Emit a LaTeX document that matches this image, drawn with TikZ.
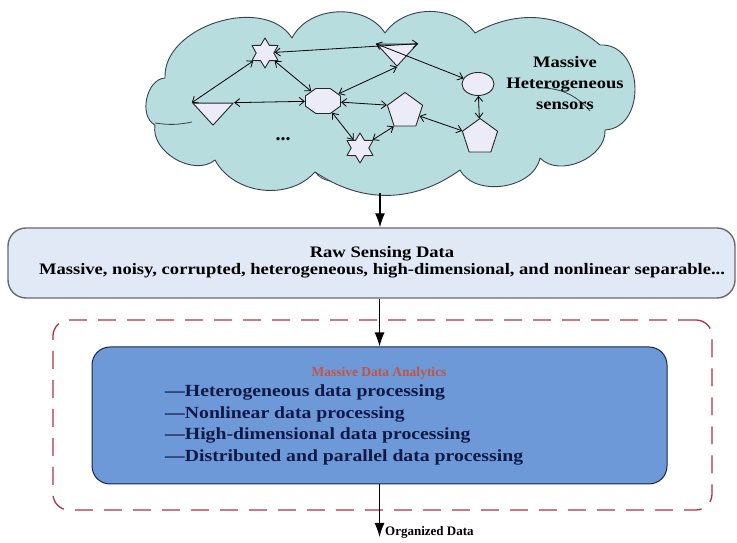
\documentclass[tikz,border=0pt]{standalone}
\usepackage{fontspec}
\setmainfont{Liberation Serif}[Ligatures=TeX]
\newfontfamily\widefont{Liberation Serif}[Ligatures=TeX,FakeStretch=1.16]
\usepackage{tikz}
\usetikzlibrary{arrows.meta,shapes.geometric,positioning}

\definecolor{cloudfill}{RGB}{184,221,223}
\definecolor{cloudline}{RGB}{55,65,75}
\definecolor{sensfill}{RGB}{236,236,248}
\definecolor{rawfill}{RGB}{226,233,246}
\definecolor{rawline}{RGB}{105,105,110}
\definecolor{procfill}{RGB}{110,153,217}
\definecolor{procline}{RGB}{25,35,70}
\definecolor{proctitle}{RGB}{196,84,62}
\definecolor{procitem}{RGB}{15,25,70}
\definecolor{framered}{RGB}{178,48,68}

\begin{document}
\begin{tikzpicture}[x=1pt,y=1pt,line join=round,
  every node/.style={font=\widefont\bfseries\fontsize{16}{19}\selectfont,inner sep=0pt},
  sensor/.style={draw=black!85,fill=sensfill,line width=0.9pt,inner sep=0pt},
  tri/.style={sensor,isosceles triangle,isosceles triangle apex angle=85,shape border rotate=270,minimum height=22},
  hexstar/.style={sensor,star,star points=6,star point ratio=1.7,minimum size=30},
  penta/.style={sensor,regular polygon,regular polygon sides=5,minimum size=37},
  link/.style={<->,>={Straight Barb[length=5pt,width=8pt]},line width=0.8pt},
  flow/.style={-{Latex[length=14pt,width=10pt]},line width=1.2pt},
  rawbox/.style={draw=rawline,fill=rawfill,line width=1.4pt,rounded corners=18pt},
  procbox/.style={draw=procline,fill=procfill,line width=1pt,rounded corners=18pt},
  frame/.style={draw=framered,line width=1.3pt,dash pattern=on 18pt off 11pt,rounded corners=16pt}]
\useasboundingbox (0,0) rectangle (737,543);

\draw[fill=cloudfill,draw=cloudline,line width=0.9pt]
  (165,465) to[bend left=75] (292,505) to[bend left=60] (385,510)
  to[bend left=55] (475,510) to[bend left=35] (600,498)
  to[bend left=90,looseness=1.3] (605,413) to[bend left=70] (540,385)
  to[bend left=70] (460,373) to[bend left=35] (315,371)
  to[bend left=55] (215,383) to[bend left=70] (155,418)
  to[bend left=75] cycle;
\draw[cloudline,line width=0.8pt] (537,455) to[bend left=25] (590,432);
\draw[cloudline,line width=0.8pt] (155,420) to[bend right=10] (192,421);
\draw[cloudline,line width=0.8pt] (315,371) to[bend right=20] (330,362);
\coordinate (cloudbot) at (380,350);

\node[hexstar] (s1) at (265,490) {};
\node[tri] (t1) at (397,490) {};
\node[tri] (t2) at (213,431) {};
\begin{scope}[shift={(323,442)},xscale=1.4]
\node[sensor,regular polygon,regular polygon sides=8,minimum size=27,transform shape] (oct) at (0,0) {};
\end{scope}
\node[penta] (p1) at (405,432) {};
\node[hexstar] (s2) at (360,395) {};
\node[sensor,ellipse,minimum width=32,minimum height=23] (c1) at (478,459) {};
\node[penta] (p2) at (480,406) {};
\node[font=\bfseries\fontsize{20}{20}\selectfont] (dots) at (283,404) {...};
\node[align=center,font=\widefont\bfseries\fontsize{16}{21}\selectfont] (cloudlbl) at (565,460) {Massive\\Heterogeneous\\sensors};

\draw[link] (s1) -- (t1.left corner);
\draw[link] (t2.right corner) -- (s1);
\draw[link] (oct) -- (s1);
\draw[link] (oct) -- (t2.left corner);
\draw[link] (oct) -- (t1.apex);
\draw[link] (oct) -- (p1.corner 2);
\draw[link] (oct) -- (s2);
\draw[link] (s2) -- (p1.corner 3);
\draw[link] (t1.right corner) -- (c1);
\draw[link] (p1) -- (p2);
\draw[link] (c1) -- (p2);

\node[rawbox,minimum width=727,minimum height=70] (raw) at (371.5,280) {};
\node[align=center,font=\widefont\bfseries\fontsize{16}{17.5}\selectfont] (rawtxt) at (382,281) {Raw Sensing Data\\Massive, noisy, corrupted, heterogeneous, high-dimensional, and nonlinear separable...};

\node[frame,minimum width=659,minimum height=190] (grp) at (382.5,128) {};
\node[procbox,minimum width=575,minimum height=137] (proc) at (379.5,127.5) {};
\node[text=proctitle,font=\bfseries\fontsize{13.5}{16}\selectfont] (ptitle) at (379,170) {Massive Data Analytics};
\node[text=procitem,align=left,anchor=west,font=\widefont\bfseries\fontsize{17}{21.7}\selectfont] (pitems) at (165,118) {---Heterogeneous data processing\\---Nonlinear data processing\\---High-dimensional data processing\\---Distributed and parallel data processing};

\coordinate (outlet) at (379.5,6);
\node[anchor=west,font=\bfseries\fontsize{13}{15}\selectfont] (outlbl) at (385,11) {Organized Data};

\draw[flow] (cloudbot) -- (cloudbot |- raw.north);
\draw[flow] (proc.north |- raw.south) -- (proc.north);
\draw[flow] (proc.south) -- (outlet);

\end{tikzpicture}
\end{document}
